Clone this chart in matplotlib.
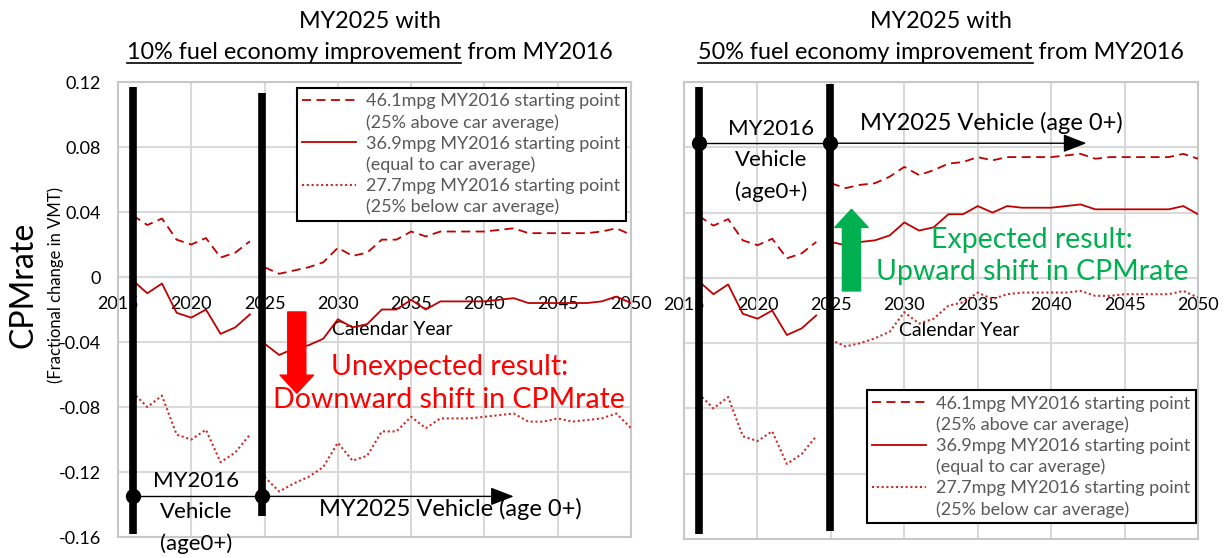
"""CPMrate by calendar year for MY2016 and MY2025 vehicles, two fuel economy cases."""

import matplotlib

matplotlib.use("Agg")
import matplotlib.pyplot as plt
import numpy as np
from matplotlib.lines import Line2D
from matplotlib.patches import ArrowStyle, FancyArrowPatch

plt.rcParams["font.family"] = ["Lato", "DejaVu Sans"]

# ---- data -------------------------------------------------------------
years_my16 = np.arange(2016, 2025)
years_my25 = np.arange(2025, 2051)

# MY2016 vehicle segment (same in both panels)
high_my16 = [0.038, 0.032, 0.036, 0.023, 0.020, 0.024, 0.012, 0.015, 0.022]
mid_my16 = [-0.002, -0.010, -0.004, -0.022, -0.025, -0.020, -0.035, -0.031, -0.023]
low_my16 = [-0.071, -0.080, -0.073, -0.097, -0.100, -0.094, -0.114, -0.108, -0.097]

# MY2025 vehicle, 10% improvement
high_10 = [0.006, 0.002, 0.004, 0.006, 0.009, 0.018, 0.013, 0.015, 0.023, 0.023,
           0.028, 0.025, 0.028, 0.028, 0.028, 0.028, 0.029, 0.030, 0.027, 0.027,
           0.027, 0.027, 0.027, 0.028, 0.030, 0.026]
mid_10 = [-0.041, -0.048, -0.044, -0.042, -0.038, -0.026, -0.031, -0.029, -0.020, -0.020,
          -0.014, -0.020, -0.015, -0.015, -0.015, -0.015, -0.014, -0.013, -0.016, -0.016,
          -0.016, -0.016, -0.016, -0.015, -0.012, -0.016]
low_10 = [-0.123, -0.132, -0.127, -0.123, -0.117, -0.102, -0.113, -0.110, -0.095, -0.095,
          -0.086, -0.093, -0.087, -0.087, -0.087, -0.086, -0.085, -0.084, -0.089, -0.089,
          -0.087, -0.089, -0.088, -0.087, -0.084, -0.093]

# MY2025 vehicle, 50% improvement
high_50 = [0.058, 0.055, 0.057, 0.058, 0.062, 0.068, 0.063, 0.066, 0.070, 0.071,
           0.074, 0.072, 0.074, 0.074, 0.074, 0.074, 0.075, 0.076, 0.073, 0.074,
           0.074, 0.074, 0.074, 0.074, 0.076, 0.073]
mid_50 = [0.022, 0.020, 0.022, 0.023, 0.026, 0.034, 0.029, 0.031, 0.039, 0.039,
          0.044, 0.040, 0.044, 0.043, 0.043, 0.043, 0.044, 0.045, 0.042, 0.042,
          0.042, 0.042, 0.042, 0.042, 0.044, 0.039]
low_50 = [-0.038, -0.042, -0.040, -0.037, -0.033, -0.021, -0.028, -0.025, -0.017, -0.015,
          -0.009, -0.013, -0.010, -0.009, -0.009, -0.009, -0.009, -0.008, -0.011, -0.011,
          -0.010, -0.010, -0.010, -0.010, -0.008, -0.012]

series_labels = [
    ("46.1mpg MY2016 starting point", "(25% above car average)"),
    ("36.9mpg MY2016 starting point", "(equal to car average)"),
    ("27.7mpg MY2016 starting point", "(25% below car average)"),
]
xticks = [2015, 2020, 2025, 2030, 2035, 2040, 2045, 2050]
yticks = [0.12, 0.08, 0.04, 0, -0.04, -0.08, -0.12, -0.16]
ytick_labels = ["0.12", "0.08", "0.04", "0", "-0.04", "-0.08", "-0.12", "-0.16"]

# ---- styling ----------------------------------------------------------
LINE_RED = "#C00000"
GRID = "#D9D9D9"
LEG_TEXT = "#595959"
styles = [dict(ls=(0, (5, 3)), lw=1.3, color=LINE_RED),
          dict(ls="-", lw=1.3, color=LINE_RED),
          dict(ls=(0, (1, 1.3)), lw=1.5, color="#CC2A2A")]

fig = plt.figure(figsize=(12.29, 5.58), dpi=100)
ax_l = fig.add_axes([0.0960, 0.0376, 0.4174, 0.8154])
ax_r = fig.add_axes([0.5566, 0.0340, 0.4182, 0.8190])


def setup_axes(ax, show_ylabels):
    ax.set_xlim(2015, 2050)
    ax.set_ylim(-0.16, 0.12)
    ax.set_xticks(xticks)
    ax.set_yticks(yticks)
    ax.set_yticklabels(ytick_labels)
    ax.tick_params(axis="x", labelbottom=False, length=0)
    ax.tick_params(axis="y", length=0, pad=12, labelsize=13, labelleft=show_ylabels)
    ax.grid(color=GRID, lw=1.5)
    ax.set_axisbelow(True)
    for sp in ax.spines.values():
        sp.set_color("#C8C8C8")
        sp.set_linewidth(1.5)
    # x axis crossing at y = 0
    sec = ax.secondary_xaxis(0.16 / 0.28)
    sec.xaxis.set_ticks_position("bottom")
    sec.set_xticks(xticks)
    sec.tick_params(length=0, pad=14, labelsize=13, labelbottom=True, labeltop=False)
    for sp in sec.spines.values():
        sp.set_color("#BFBFBF")
        sp.set_linewidth(1.5)
    ax.text(0.535, 0.457, "Calendar Year", transform=ax.transAxes, ha="center",
            va="center", fontsize=14)


def draw_series(ax, post):
    handles = []
    for pre, after, st in zip([high_my16, mid_my16, low_my16], post, styles):
        ax.plot(years_my16, pre, zorder=3, **st)
        (h,) = ax.plot(years_my25, after, zorder=3, **st)
        handles.append(h)
    return handles


def add_legend(ax, handles, **kw):
    blank = Line2D([], [], color="none")
    hs, ls = [], []
    for h, (a, b) in zip(handles, series_labels):
        hs += [h, blank]
        ls += [a, b]
    leg = ax.legend(hs, ls, fontsize=13, labelcolor=LEG_TEXT, handlelength=3.0,
                    handletextpad=0.55, labelspacing=0.27, borderpad=0.3,
                    fancybox=False, framealpha=1, edgecolor="black",
                    borderaxespad=0, **kw)
    leg.get_frame().set_linewidth(1.5)
    leg.set_zorder(6)


def vehicle_markers(ax, bars, y_link, arrow_end, label16_xy, label25_xy):
    (x16, top16, bot16), (x25, top25, bot25) = bars
    ax.plot([x16, x16], [top16, bot16], color="black", lw=5.5, solid_capstyle="butt",
            zorder=5, clip_on=False)
    ax.plot([x25, x25], [top25, bot25], color="black", lw=5.5, solid_capstyle="butt",
            zorder=5, clip_on=False)
    ax.plot([x16, x25], [y_link, y_link], color="black", lw=1, zorder=5)
    ax.plot([x16, x25], [y_link, y_link], "o", color="black", ms=10, zorder=6)
    ax.annotate("", xy=(arrow_end, y_link), xytext=(x25, y_link), zorder=5,
                arrowprops=dict(arrowstyle="-|>,head_length=0.9,head_width=0.35",
                                mutation_scale=16, lw=1, color="black",
                                shrinkA=0, shrinkB=0))
    ax.text(*label16_xy, "MY2016\nVehicle\n(age0+)", ha="center", va="center",
            fontsize=16, linespacing=1.7, zorder=7)
    ax.text(*label25_xy, "MY2025 Vehicle (age 0+)", ha="center", va="center",
            fontsize=17, zorder=7)


def block_arrow(ax, x, y0, y1, color):
    ax.add_patch(FancyArrowPatch(
        (x, y0), (x, y1), mutation_scale=1, color=color, zorder=6, shrinkA=0, shrinkB=0,
        arrowstyle=ArrowStyle.Simple(head_length=13, head_width=24, tail_width=13)))


# ---- left panel: 10% improvement ---------------------------------------
setup_axes(ax_l, True)
h_left = draw_series(ax_l, [high_10, mid_10, low_10])
add_legend(ax_l, h_left, loc="upper right", bbox_to_anchor=(0.990, 0.987))
vehicle_markers(ax_l, [(2016, 0.117, -0.158), (2024.8, 0.113, -0.147)], -0.135, 2042,
                (2020.3, -0.145), (2037.7, -0.143))
block_arrow(ax_l, 2027.2, -0.0215, -0.0715, "#FF0000")
ax_l.text(2037.6, -0.0655, "Unexpected result:\nDownward shift in CPMrate", color="#FF0000",
          ha="center", va="center", fontsize=20.5, linespacing=1.3, zorder=5)

# ---- right panel: 50% improvement --------------------------------------
setup_axes(ax_r, False)
h_right = draw_series(ax_r, [high_50, mid_50, low_50])
add_legend(ax_r, h_right, loc="lower right", bbox_to_anchor=(0.996, 0.035))
vehicle_markers(ax_r, [(2016, 0.117, -0.157), (2024.95, 0.119, -0.155)], 0.0825, 2042.4,
                (2020.9, 0.072), (2035.9, 0.095))
block_arrow(ax_r, 2026.4, -0.008, 0.042, "#00B050")
ax_r.text(2038.7, 0.0132, "Expected result:\nUpward shift in CPMrate", color="#00B050",
          ha="center", va="center", fontsize=20.5, linespacing=1.3, zorder=7)

# ---- y labels ----------------------------------------------------------
fig.text(0.019, 0.49, "CPMrate", rotation=90, ha="center", va="center", fontsize=23)
fig.text(0.045, 0.49, "(Fractional change in VMT)", rotation=90, ha="center",
         va="center", fontsize=12)

# ---- titles with underlined part ---------------------------------------
fig.canvas.draw()
renderer = fig.canvas.get_renderer()
W, H = fig.bbox.width, fig.bbox.height
for xc, pct in [(0.301, "10%"), (0.766, "50%")]:
    fig.text(xc, 0.962, "MY2025 with", ha="center", va="center", fontsize=16.8)
    part = f"{pct} fuel economy improvement"
    t = fig.text(xc, 0.906, part + " from MY2016", ha="center", va="center", fontsize=16.8)
    bb = t.get_window_extent(renderer)
    probe = fig.text(0, 0, part, fontsize=16.8)
    w = probe.get_window_extent(renderer).width
    probe.remove()
    fig.add_artist(Line2D([bb.x0 / W, (bb.x0 + w) / W], [0.887, 0.887],
                          transform=fig.transFigure, color="black", lw=1.2))

fig.savefig("out.png", dpi=100)
plt.close(fig)
